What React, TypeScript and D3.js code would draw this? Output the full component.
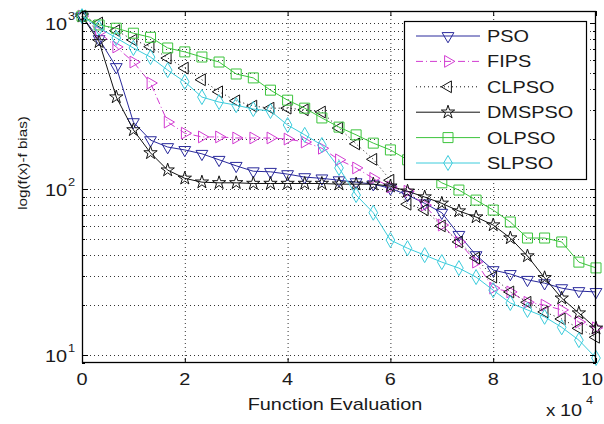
import React, { useEffect, useRef } from 'react';
import * as d3 from 'd3';

// function evaluations, in units of 10^4
const evals = [0, 0.333, 0.667, 1, 1.333, 1.667, 2, 2.333, 2.667, 3, 3.333, 3.667, 4, 4.333, 4.667, 5,
  5.333, 5.667, 6, 6.333, 6.667, 7, 7.333, 7.667, 8, 8.333, 8.667, 9, 9.333, 9.667, 10];

const pso = [1100, 800, 543, 253, 197, 179, 172, 163, 150, 138, 128, 127, 123, 118, 116, 113,
  110, 107, 101, 92, 82, 72, 53, 40, 32.5, 30.8, 28.4, 27.1, 25.3, 24.3, 24.0];
const fips = [1100, 880, 717, 582, 435, 253, 217, 206, 206, 203, 203, 203, 200, 192, 176, 150,
  134, 116, 103, 97, 80, 60.7, 48, 36.3, 25.3, 24, 20.8, 20, 18.7, 15.8, 14.6];
const clpso = [1100, 1000, 900, 790, 720, 615, 535, 455, 385, 340, 316, 307, 307, 300, 291, 233,
  187, 151, 113, 81, 75, 60, 48, 38.4, 29.5, 24, 20.8, 18.2, 16.5, 14.5, 12.8];
const dmspso = [1100, 770, 358, 227, 165, 130, 116, 110, 109, 109, 108, 108, 108, 108, 108, 107,
  107, 107, 104, 97, 89.5, 82, 73.7, 67.8, 60.7, 50.7, 39.5, 29.2, 22, 17.9, 14.5];
const olpso = [1100, 973, 930, 868, 820, 707, 670, 624, 582, 493, 467, 394, 343, 307, 268, 236,
  212, 189, 172, 150, 127, 109, 98.6, 85.8, 74.7, 63.3, 50.7, 50.7, 48, 36.3, 33.5];
const slpso = [1100, 935, 813, 707, 623, 520, 442, 358, 334, 320, 303, 295, 243, 212, 184, 134,
  92, 72, 49.3, 44, 40, 36.3, 33.4, 29.5, 24.6, 20.6, 18.7, 17.0, 14.7, 12.3, 9.6];

const names = ['PSO', 'FIPS', 'CLPSO', 'DMSPSO', 'OLPSO', 'SLPSO'];
const xTicks = [0, 2, 4, 6, 8, 10];
const yExps = [1, 2, 3];

const FONT = '"Liberation Sans", Arial, sans-serif';
const STRETCH = 1.17; // the reference text is a bit wider than Arial

export default function App() {
  const ref = useRef<SVGSVGElement>(null);

  useEffect(() => {
    const svg = d3.select(ref.current);
    svg.selectAll('*').remove();

    const left = 82, right = 596, top = 11, bottom = 363;
    const x = d3.scaleLinear().domain([0, 10]).range([left, right]);
    const y = d3.scaleLog().domain([8.96, 1181]).range([bottom, top]);

    svg.append('rect').attr('width', 604).attr('height', 424).attr('fill', '#fff');

    const label = (g: any, tx: number, ty: number, str: string, size: number, anchor = 'start', rot = 0) =>
      g.append('text')
        .attr('transform', `translate(${tx},${ty}) rotate(${rot}) scale(${STRETCH},1)`)
        .attr('text-anchor', anchor).attr('font-size', size).text(str);

    // grid (matlab dotted)
    const grid = svg.append('g').attr('stroke', '#333').attr('stroke-width', 1)
      .attr('stroke-dasharray', '1,3');
    xTicks.slice(1, -1).forEach(t => {
      grid.append('line').attr('x1', x(t) + 0.5).attr('x2', x(t) + 0.5)
        .attr('y1', top).attr('y2', bottom);
    });
    const yGrid: number[] = [];
    [1, 10, 100].forEach(dec => {
      for (let k = 1; k <= 9; k++) yGrid.push(dec * k);
    });
    yGrid.push(1000);
    yGrid.filter(v => v >= 10).forEach(v => {
      grid.append('line').attr('x1', left).attr('x2', right)
        .attr('y1', Math.round(y(v)) + 0.5).attr('y2', Math.round(y(v)) + 0.5);
    });

    // series
    const series = [
      { data: pso, color: '#2a2a9c', dash: null, marker: 'down' },
      { data: fips, color: '#d23cd2', dash: '7,3,1,3', marker: 'right' },
      { data: clpso, color: '#111', dash: '1,3', marker: 'left' },
      { data: dmspso, color: '#111', dash: null, marker: 'star' },
      { data: olpso, color: '#3cc43c', dash: null, marker: 'square' },
      { data: slpso, color: '#3cccdc', dash: null, marker: 'diamond' },
    ];

    const markerPath = (m: string) => {
      if (m === 'square') return d3.symbol(d3.symbolSquare, 100)();
      if (m === 'diamond') return d3.symbol(d3.symbolDiamond, 65)();
      if (m === 'star') return d3.symbol(d3.symbolStar, 55)();
      return d3.symbol(d3.symbolTriangle, 60)();
    };
    const markerRot = (m: string) => (m === 'down' ? 180 : m === 'right' ? 90 : m === 'left' ? -90 : 0);

    const line = d3.line<number>().x((d, i) => x(evals[i])).y(d => y(d));

    const plot = svg.append('g');
    series.forEach(s => {
      const g = plot.append('g');
      g.append('path').attr('d', line(s.data)).attr('fill', 'none')
        .attr('stroke', s.color).attr('stroke-width', 1)
        .attr('stroke-dasharray', s.dash);
      g.selectAll('path.m').data(s.data).enter().append('path')
        .attr('class', 'm')
        .attr('d', markerPath(s.marker))
        .attr('transform', (d, i) => `translate(${x(evals[i])},${y(d)}) rotate(${markerRot(s.marker)})`)
        .attr('fill', 'none').attr('stroke', s.color).attr('stroke-width', 1);
    });

    // axes box and ticks
    const ax = svg.append('g').attr('stroke', '#000').attr('stroke-width', 1);
    ax.append('rect').attr('x', left + 0.5).attr('y', top + 0.5)
      .attr('width', right - left - 1).attr('height', bottom - top - 1).attr('fill', 'none')
      .attr('stroke-width', 1.3);
    xTicks.forEach(t => {
      ax.append('line').attr('x1', x(t) + 0.5).attr('x2', x(t) + 0.5).attr('y1', bottom).attr('y2', bottom - 5);
      ax.append('line').attr('x1', x(t) + 0.5).attr('x2', x(t) + 0.5).attr('y1', top).attr('y2', top + 5);
    });
    yGrid.filter(v => v >= 9).forEach(v => {
      const major = [10, 100, 1000].includes(v);
      const len = major ? 6 : 3;
      const yy = Math.round(y(v)) + 0.5;
      ax.append('line').attr('x1', left).attr('x2', left + len).attr('y1', yy).attr('y2', yy);
      ax.append('line').attr('x1', right - len).attr('x2', right).attr('y1', yy).attr('y2', yy);
    });

    const txt = svg.append('g').attr('font-family', FONT).attr('fill', '#1a1a1a');
    xTicks.forEach(t => {
      // the last label would run off the page, so it is kept inside the right edge
      if (x(t) + 12 > 603) label(txt, 603, 385, String(t), 17, 'end');
      else label(txt, x(t), 385, String(t), 17, 'middle');
    });
    yExps.forEach(e => {
      const yy = y(Math.pow(10, e));
      label(txt, 67, yy + 7, '10', 17, 'end');
      label(txt, 68, yy - 3, String(e), 11);
    });
    label(txt, 335, 410, 'Function Evaluation', 17, 'middle');
    label(txt, 546, 416, 'x', 16);
    label(txt, 560, 416, '10', 17);
    label(txt, 586, 404, '4', 11);
    label(txt, 27, 163, 'log(f(x)-f bias)', 13, 'middle', -90);

    // legend
    const lg = svg.append('g');
    lg.append('rect').attr('x', 404.5).attr('y', 21.5).attr('width', 182).attr('height', 158)
      .attr('fill', '#fff').attr('stroke', '#000').attr('stroke-width', 1.2);
    const lgText = lg.append('g').attr('font-family', FONT).attr('fill', '#1a1a1a');
    series.forEach((s, i) => {
      const yy = 36 + i * 25.4;
      lg.append('line').attr('x1', 416).attr('x2', 480).attr('y1', yy).attr('y2', yy)
        .attr('stroke', s.color).attr('stroke-width', 1).attr('stroke-dasharray', s.dash);
      lg.append('path').attr('d', markerPath(s.marker))
        .attr('transform', `translate(448,${yy}) rotate(${markerRot(s.marker)})`)
        .attr('fill', 'none').attr('stroke', s.color);
      label(lgText, 487, yy + 6, names[i], 17);
    });
  }, []);

  return (
    <svg ref={ref} width={604} height={424}
      style={{ position: 'absolute', left: 0, top: 0 }} />
  );
}
